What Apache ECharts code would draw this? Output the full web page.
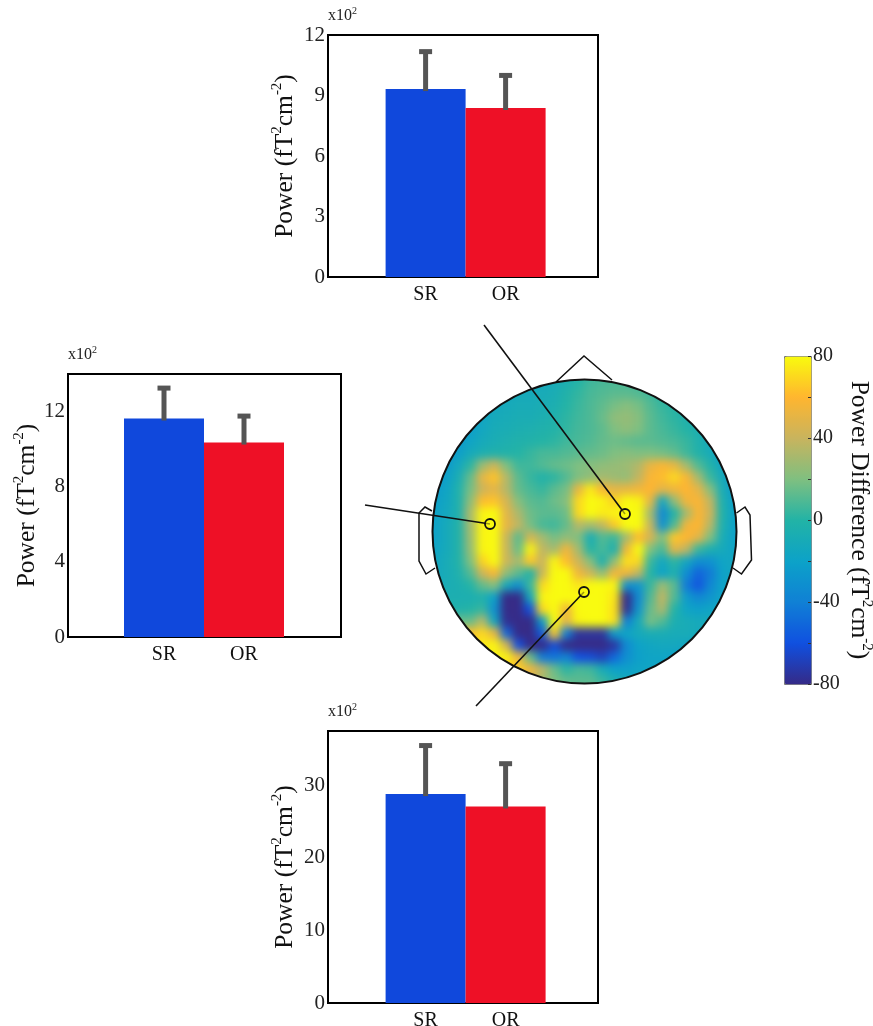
<!DOCTYPE html>
<html><head><meta charset="utf-8">
<style>
html,body{margin:0;padding:0;background:#fff}
#c{width:873px;height:1026px}
canvas[data-zr-dom-id="zr_-1"]{filter:blur(4.5px);clip-path:circle(152px at 584.5px 531.5px)}
</style>
<script src="https://cdn.jsdelivr.net/npm/echarts@6/dist/echarts.min.js"></script>
</head><body><div id="c"></div>
<script>
const categories=['SR','OR'];
const topMeans=[9.32,8.38];
const topErrorTops=[11.25,10.07];
const leftMeans=[11.63,10.35];
const leftErrorTops=[13.33,11.84];
const bottomMeans=[28.8,27.1];
const bottomErrorTops=[35.7,33.2];
const barColors=['#1048dc','#ee1026'];
const scaleColors=['#352a87','#1050e0','#1080d5','#0ca2c8','#22b3a6','#7fbf80','#c8b45e','#ffb52f','#f9fb0e'];
const heatRows=[
[-18,-18,-18,-18,-18,-18,-18,-18,-18,-18,-15,-10,-5,0,5,5,5,5,5,0,-5,-10,-15,-20,-25,-25,-25,-25],
[-18,-18,-18,-18,-18,-18,-18,-18,-18,-18,-14,-10,-6,0,6,8,8,8,6,2,-4,-10,-15,-20,-25,-25,-25,-25],
[-25,-25,-25,-25,-25,-22,-18,-14,-12,-12,-10,-8,-2,3,8,10,12,12,10,6,0,-6,-12,-18,-25,-28,-28,-28],
[-28,-28,-28,-28,-26,-20,-14,-12,-10,-10,-8,-6,0,5,9,13,18,22,18,10,4,0,-6,-12,-20,-26,-30,-30],
[-30,-30,-30,-30,-24,-17,-12,-10,-8,-8,-6,-4,2,6,9,15,24,26,22,12,6,2,-4,-10,-18,-26,-30,-30],
[-32,-32,-32,-30,-22,-15,-10,-8,-6,-5,-3,-1,3,7,9,13,20,24,20,12,8,4,0,-6,-14,-24,-30,-32],
[-30,-30,-30,-26,-18,-12,-8,-5,-3,-2,0,2,6,8,10,14,16,14,12,12,10,8,4,-4,-12,-22,-30,-32],
[-30,-30,-28,-22,-12,-6,-3,-2,0,4,8,8,10,12,14,16,20,22,20,20,18,14,6,-2,-10,-22,-30,-32],
[-28,-28,-24,-14,2,28,42,20,6,6,10,14,16,20,22,24,26,28,34,52,58,52,30,10,-2,-16,-28,-30],
[-26,-26,-22,-8,14,50,64,35,12,4,-2,2,10,20,25,30,28,26,38,58,62,70,58,30,5,-12,-26,-28],
[-24,-24,-18,-4,18,42,50,35,14,8,4,12,18,52,75,58,50,52,55,60,50,55,60,50,22,-8,-24,-26],
[-22,-22,-16,-4,24,62,64,45,22,12,10,16,22,70,80,78,68,80,78,50,-15,25,55,58,38,-4,-22,-24],
[-20,-20,-14,-4,32,78,80,50,32,16,12,12,16,70,80,75,78,80,80,30,-35,0,30,58,42,-2,-20,-22],
[-20,-20,-12,-2,30,78,80,52,38,18,8,6,14,35,30,38,65,80,80,40,-30,10,55,60,35,-4,-20,-20],
[-20,-20,-12,-2,28,78,80,42,12,45,30,18,25,20,-8,10,5,30,62,45,20,65,60,50,20,-8,-20,-20],
[-18,-18,-12,-2,26,78,80,42,15,78,38,30,55,30,0,8,-5,55,80,20,8,50,38,5,-6,-12,-18,-18],
[-16,-16,-10,-2,20,68,80,42,30,65,40,78,62,42,22,-5,25,72,70,5,-15,2,-15,-32,-30,-18,-15,-15],
[-14,-14,-10,-4,10,42,58,25,12,-2,42,80,80,55,42,25,55,55,38,0,-20,-5,-32,-52,-42,-20,-15,-15],
[-12,-12,-8,-6,0,14,22,-12,-30,5,70,80,80,74,80,80,78,-30,-28,5,28,12,-42,-58,-36,-20,-15,-15],
[-10,-10,-6,-6,-6,-4,-20,-80,-80,-15,78,80,80,80,80,80,74,-80,-35,10,38,10,-25,-36,-28,-18,-15,-15],
[-3,-3,-3,-3,0,4,-30,-80,-80,-60,70,80,55,80,80,80,72,-78,-28,15,32,0,-18,-22,-18,-15,-15,-15],
[15,15,15,15,15,35,-15,-78,-80,-80,-25,80,50,78,80,80,72,-40,-12,18,10,-6,-10,-12,-12,-12,-12,-12],
[62,62,62,62,62,70,52,-50,-80,-80,-55,65,-40,-75,-75,-75,-25,-18,-12,-8,-8,-10,-10,-12,-14,-14,-14,-14],
[75,75,75,75,75,75,78,45,-60,-80,-80,-62,-80,-80,-80,-80,-74,-35,-20,-16,-14,-14,-16,-18,-18,-18,-18,-18],
[78,78,78,78,78,78,78,78,55,15,-42,-45,-38,-60,-62,-68,-50,-32,-22,-18,-18,-20,-20,-20,-20,-20,-20,-20],
[65,65,65,65,65,65,65,65,68,55,36,15,2,8,6,-10,-20,-22,-18,-18,-18,-18,-18,-18,-18,-18,-18,-18],
[40,40,40,40,40,40,40,40,40,40,30,20,14,12,12,5,-5,-12,-15,-15,-15,-15,-15,-15,-15,-15,-15,-15],
[40,40,40,40,40,40,40,40,40,40,30,20,14,12,12,5,-5,-12,-15,-15,-15,-15,-15,-15,-15,-15,-15,-15]
];

const SERIF='"Liberation Serif","Times New Roman",serif';
const BAND=80;
const panels=[
 {left:328,top:35,w:270,h:242,centers:[1.22,2.22],max:12,interval:3,showMax:true,gap:30,means:topMeans,errs:topErrorTops},
 {left:68,top:374,w:273,h:263,centers:[1.2,2.2],max:14,interval:4,showMax:false,gap:28,means:leftMeans,errs:leftErrorTops},
 {left:328,top:731,w:270,h:272,centers:[1.22,2.22],max:37.5,interval:10,showMax:false,gap:30,means:bottomMeans,errs:bottomErrorTops}
];
const titleRich={a:{fontFamily:SERIF,fontSize:25.5,color:'#111',lineHeight:28,verticalAlign:'bottom'},
                 s:{fontFamily:SERIF,fontSize:15,color:'#111',lineHeight:28,verticalAlign:'top'}};
const powerName='{a|Power (fT}{s|2}{a|cm}{s|-2}{a|)}';
const grids=[],xAxes=[],yAxes=[],series=[],titles=[];
panels.forEach((p,i)=>{
 grids.push({left:p.left,top:p.top,width:p.w,height:p.h,show:true,borderColor:'#000',borderWidth:2,backgroundColor:'transparent',outerBoundsMode:'none'});
 xAxes.push({gridIndex:i,type:'value',min:0,max:p.w/BAND,splitLine:{show:false},axisTick:{show:false},
   axisLine:{show:true,lineStyle:{color:'#000',width:2}},
   axisLabel:{customValues:p.centers,margin:8,fontFamily:SERIF,fontSize:20,color:'#111',
     formatter:v=>categories[p.centers.indexOf(v)]||''}});
 yAxes.push({gridIndex:i,type:'value',min:0,max:p.max,interval:p.interval,splitLine:{show:false},axisTick:{show:false},
   axisLine:{show:true,onZero:false,lineStyle:{color:'#000',width:2}},
   axisLabel:{margin:3,padding:[5,0,0,0],fontFamily:SERIF,fontSize:21,color:'#222',showMaxLabel:p.showMax},
   name:powerName,nameLocation:'middle',nameGap:p.gap,nameTextStyle:{rich:titleRich}});
 series.push({type:'bar',xAxisIndex:i,yAxisIndex:i,barWidth:BAND,animation:false,silent:true,
   data:p.means.map((m,k)=>({value:[p.centers[k],m],itemStyle:{color:barColors[k]}}))});
 series.push({type:'custom',xAxisIndex:i,yAxisIndex:i,animation:false,silent:true,z:3,
   data:p.errs.map((e,k)=>[p.centers[k],e,p.means[k]]),
   renderItem:(params,api)=>{
     const a=api.coord([api.value(0),api.value(1)]);
     const b=api.coord([api.value(0),api.value(2)]);
     return {type:'group',children:[
       {type:'rect',shape:{x:a[0]-2.5,y:a[1],width:5,height:b[1]-a[1]+2},style:{fill:'#555'}},
       {type:'rect',shape:{x:a[0]-6.5,y:a[1]-1,width:13,height:5},style:{fill:'#555'}}
     ]};
   }});
 titles.push({text:'{a|x10}{b|2}',left:p.left,top:p.top-29,padding:0,
   textStyle:{fontWeight:'normal',rich:{a:{fontFamily:SERIF,fontSize:16,fontWeight:'normal',color:'#222',lineHeight:18,verticalAlign:'bottom'},
                    b:{fontFamily:SERIF,fontSize:10,fontWeight:'normal',color:'#222',lineHeight:18,verticalAlign:'top'}}}});
});
// topographic map grid
const heatIdx=grids.length;
grids.push({left:416.5,top:363.5,width:336,height:336,outerBoundsMode:'none'});
xAxes.push({gridIndex:heatIdx,type:'category',show:false,data:heatRows[0].map((_,c)=>c)});
yAxes.push({gridIndex:heatIdx,type:'category',show:false,inverse:true,data:heatRows.map((_,r)=>r)});
const heatData=[];
heatRows.forEach((row,r)=>row.forEach((v,c)=>heatData.push([c,r,v])));
const heatSeriesIndex=series.length;
series.push({type:'heatmap',xAxisIndex:heatIdx,yAxisIndex:heatIdx,data:heatData,zlevel:-1,animation:false,silent:true,progressive:0});
// colour bar axis
const cbIdx=grids.length;
grids.push({left:784,top:356,width:27,height:328,outerBoundsMode:'none'});
xAxes.push({gridIndex:cbIdx,type:'value',show:false,min:0,max:1});
yAxes.push({gridIndex:cbIdx,type:'value',position:'right',min:-80,max:80,interval:40,z:10,splitLine:{show:false},
  axisLine:{show:false,onZero:false},axisTick:{show:true,inside:true,length:3,lineStyle:{color:'#333'}},
  minorTick:{show:true,splitNumber:2,length:3,lineStyle:{color:'#333'}},
  axisLabel:{margin:2,padding:[5,0,0,0],fontFamily:SERIF,fontSize:20,color:'#222',showMinLabel:true,showMaxLabel:true},
  name:'{a|Power Difference (fT}{s|2}{a|cm}{s|-2}{a|)}',nameLocation:'middle',nameGap:35,nameRotate:-90,nameTextStyle:{rich:titleRich}});

const K='#111';
const outline=(pts,w)=>({type:'polyline',shape:{points:pts},style:{stroke:K,lineWidth:w||1.5,fill:null},z:20,silent:true});
const leader=(a,b)=>({type:'line',shape:{x1:a[0],y1:a[1],x2:b[0],y2:b[1]},style:{stroke:K,lineWidth:1.6},z:21,silent:true});
const pin=p=>({type:'circle',shape:{cx:p[0],cy:p[1],r:5},style:{fill:'rgba(249,251,14,0.6)',stroke:K,lineWidth:1.8},z:22,silent:true});
const chart=echarts.init(document.getElementById('c'),null,{renderer:'canvas',width:873,height:1026});
chart.setOption({
 animation:false,
 title:titles,grid:grids,xAxis:xAxes,yAxis:yAxes,series:series,
 tooltip:{show:false},
 visualMap:{type:'continuous',min:-80,max:80,seriesIndex:heatSeriesIndex,calculable:false,hoverLink:false,
   left:784,top:356,itemWidth:27,itemHeight:328,padding:0,text:null,showLabel:false,borderColor:'#777',borderWidth:1,
   inRange:{color:scaleColors}},
 graphic:[
  {type:'circle',shape:{cx:584.5,cy:531.5,r:152},style:{fill:null,stroke:K,lineWidth:2},z:20,silent:true},
  outline([[556,382],[584,356],[612,380]]),
  outline([[432,511],[425,507],[419,513],[419,561],[426,574],[435,568]]),
  outline([[736.5,513],[745,507],[750,515],[751.5,560],[741.5,574],[733,568]]),
  leader([484,325],[625,514]),pin([625,514]),
  leader([365,505],[490,524]),pin([490,524]),
  leader([476,706],[584,592]),pin([584,592])
 ]
});
</script></body></html>
